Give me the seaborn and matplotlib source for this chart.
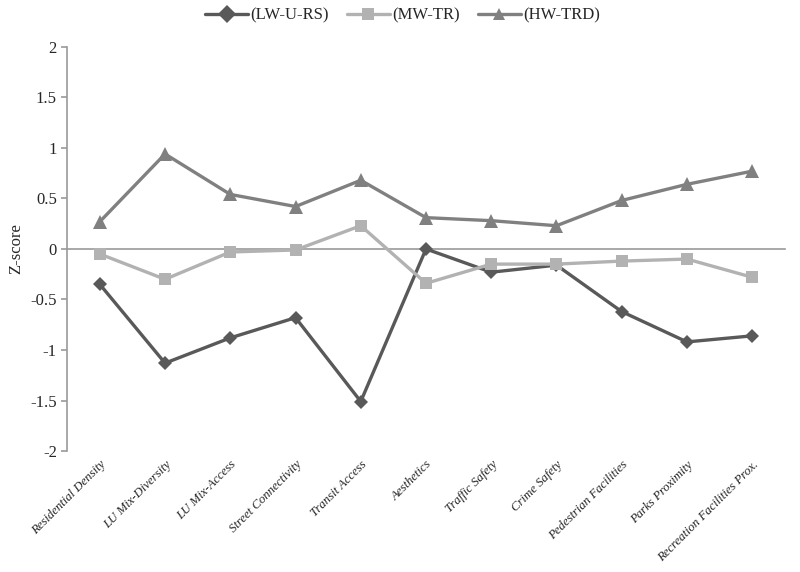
import pandas as pd
import matplotlib.pyplot as plt
import seaborn as sns

categories = ['Residential Density', 'LU Mix-Diversity', 'LU Mix-Access', 'Street Connectivity',
              'Transit Access', 'Aesthetics', 'Traffic Safety', 'Crime Safety',
              'Pedestrian Facilities', 'Parks Proximity', 'Recreation Facilities Prox.']
lw_u_rs = [-0.35, -1.13, -0.88, -0.68, -1.51, 0.00, -0.23, -0.16, -0.62, -0.92, -0.86]
mw_tr = [-0.05, -0.30, -0.03, -0.01, 0.23, -0.34, -0.15, -0.15, -0.12, -0.10, -0.28]
hw_trd = [0.27, 0.94, 0.54, 0.42, 0.68, 0.31, 0.28, 0.23, 0.48, 0.64, 0.77]
series_names = ['(LW-U-RS)', '(MW-TR)', '(HW-TRD)']
yticks = [-2, -1.5, -1, -0.5, 0, 0.5, 1, 1.5, 2]
ytick_labels = ['-2', '-1.5', '-1', '-0.5', '0', '0.5', '1', '1.5', '2']

rows = []
for name, vals in zip(series_names, [lw_u_rs, mw_tr, hw_trd]):
    for i, (c, v) in enumerate(zip(categories, vals)):
        rows.append({'pos': i, 'Kategori': c, 'Z-score': v, 'Gruppe': name})
df = pd.DataFrame(rows)

sns.set_style('white')
plt.rcParams['font.family'] = ['Liberation Serif', 'DejaVu Serif']

farver = {'(LW-U-RS)': '#595959', '(MW-TR)': '#b2b2b2', '(HW-TRD)': '#808080'}
markorer = {'(LW-U-RS)': 'D', '(MW-TR)': 's', '(HW-TRD)': '^'}
storrelser = {'(LW-U-RS)': 7.5, '(MW-TR)': 9, '(HW-TRD)': 9.5}

fig = plt.figure(figsize=(8, 5.72), dpi=100)
ax = fig.add_axes([0.084, 0.2115, 0.897, 0.7065])

sns.lineplot(data=df, x='pos', y='Z-score', hue='Gruppe', style='Gruppe',
             palette=farver, markers=markorer, dashes=False, sort=False,
             linewidth=2.4, markersize=9, markeredgewidth=0, ax=ax)
for line, name in zip(ax.lines, series_names):
    line.set_markersize(storrelser[name])

ax.set_xlim(-0.5, len(categories) - 0.5)
ax.set_ylim(-2, 2)
ax.set_yticks(yticks)
ax.set_yticklabels(ytick_labels, fontsize=12)
ax.set_ylabel('Z-score', fontsize=12, labelpad=4)
ax.set_xlabel('')

ax.spines['top'].set_visible(False)
ax.spines['right'].set_visible(False)
ax.spines['bottom'].set_position(('data', 0))
ax.spines['bottom'].set_zorder(0)
for s in ['left', 'bottom']:
    ax.spines[s].set_color('#9a9a9a')
    ax.spines[s].set_linewidth(1.2)

ax.set_xticks(range(len(categories)))
ax.set_xticklabels(categories, rotation=45, ha='right', rotation_mode='anchor',
                   fontsize=9.2, style='italic')
ax.set_xticks([i - 0.5 for i in range(len(categories) + 1)], minor=True)
ax.tick_params(axis='x', which='major', length=0, pad=151)
ax.tick_params(axis='x', which='minor', length=4, direction='out', color='#9a9a9a', width=1.2)
ax.tick_params(axis='y', length=4, direction='out', color='#9a9a9a', width=1.2, left=True)

sns.move_legend(ax, 'center', bbox_to_anchor=(0.467, 1.077), ncol=3, frameon=False,
                title=None, fontsize=12, handlelength=2.6, columnspacing=1.1, handletextpad=0.1)

plt.savefig('out.png', dpi=100)
